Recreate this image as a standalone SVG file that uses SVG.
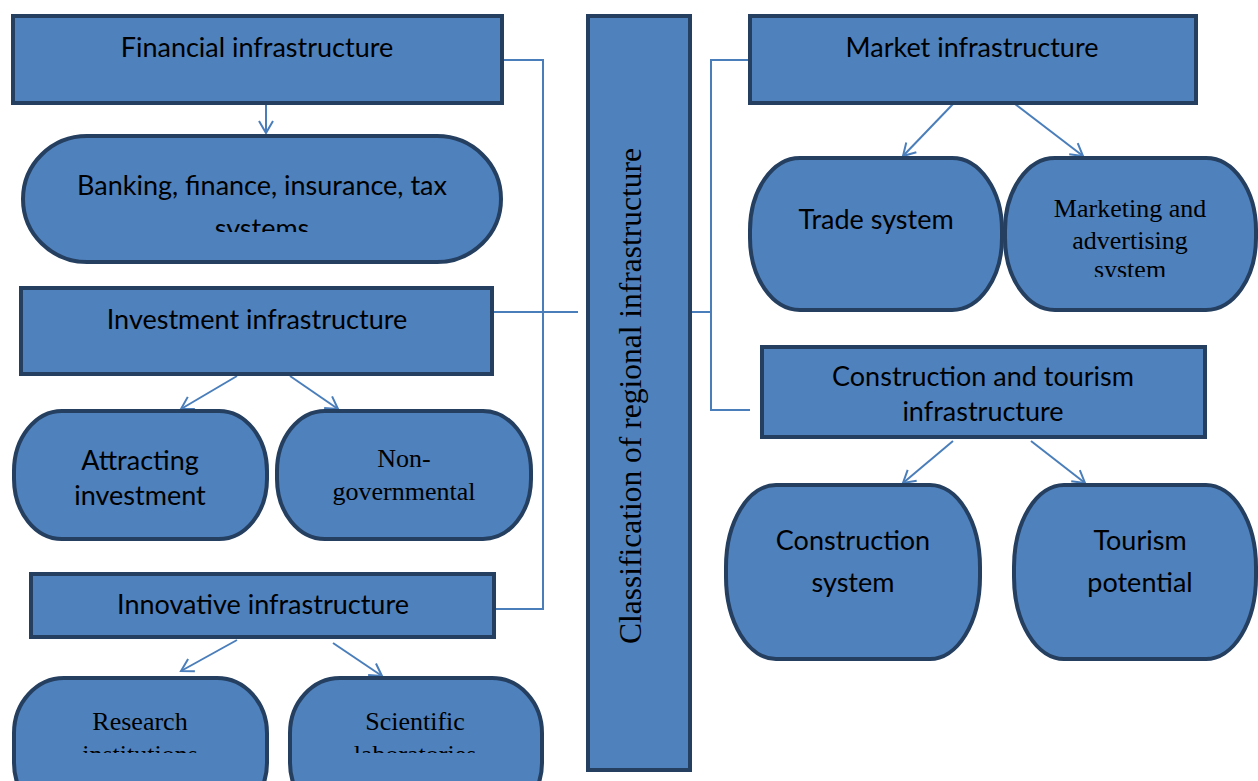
<svg xmlns="http://www.w3.org/2000/svg" width="1258" height="781" viewBox="0 0 1258 781">
<style>
.box{fill:#4F81BD;stroke:#243F60;stroke-width:4}
.t{font-family:Lato,"Liberation Sans",sans-serif;font-size:27px;fill:#000;text-anchor:middle}
.s{font-family:"Liberation Serif","Times New Roman",serif;font-size:26px;fill:#000;text-anchor:middle}
.c{fill:none;stroke:#4A7EBB;stroke-width:2}
</style>
<defs>
<marker id="ar" markerWidth="20" markerHeight="20" refX="15" refY="10" orient="auto" markerUnits="userSpaceOnUse">
<path d="M3,3 L15,10 L3,17" fill="none" stroke="#4A7EBB" stroke-width="2"/>
</marker>
<clipPath id="cb"><rect x="0" y="0" width="1258" height="232"/></clipPath>
<clipPath id="cr"><rect x="0" y="0" width="1258" height="753"/></clipPath>
<clipPath id="cm"><rect x="0" y="0" width="1258" height="277"/></clipPath>
</defs>

<g id="connectors">
<polyline class="c" points="503,60 543,60 543,609 495,609"/>
<line class="c" x1="493" y1="312" x2="578" y2="312"/>
<polyline class="c" points="750,60 711,60 711,410 750,410"/>
<line class="c" x1="691" y1="312" x2="711" y2="312"/>
<line class="c" x1="266" y1="104" x2="266" y2="133" marker-end="url(#ar)"/>
<line class="c" x1="237" y1="376" x2="181" y2="409" marker-end="url(#ar)"/>
<line class="c" x1="290" y1="376" x2="338" y2="409" marker-end="url(#ar)"/>
<line class="c" x1="237" y1="640" x2="181" y2="671" marker-end="url(#ar)"/>
<line class="c" x1="333" y1="643" x2="382" y2="676" marker-end="url(#ar)"/>
<line class="c" x1="953" y1="104" x2="903" y2="156" marker-end="url(#ar)"/>
<line class="c" x1="1015" y1="104" x2="1083" y2="156" marker-end="url(#ar)"/>
<line class="c" x1="953" y1="441" x2="903" y2="483" marker-end="url(#ar)"/>
<line class="c" x1="1031" y1="441" x2="1085" y2="483" marker-end="url(#ar)"/>
</g>

<g id="center">
<rect class="box" x="588" y="16" width="102" height="754"/>
<text class="s" transform="translate(641,396) rotate(-90)" style="font-size:31.5px">Classification of regional infrastructure</text>
</g>

<g id="financial">
<rect class="box" x="13" y="16" width="489" height="87"/>
<text class="t" x="257" y="57">Financial infrastructure</text>
</g>
<g id="banking">
<rect class="box" x="23" y="136" width="478" height="126" rx="64" ry="63"/>
<g clip-path="url(#cb)">
<text class="t" x="262" y="195">Banking, finance, insurance, tax</text>
<text class="t" x="262" y="238">systems</text>
</g>
</g>

<g id="investment">
<rect class="box" x="21" y="288" width="471" height="86"/>
<text class="t" x="257" y="329">Investment infrastructure</text>
</g>
<g id="attracting">
<rect class="box" x="14" y="411" width="253" height="128" rx="48" ry="60"/>
<text class="t" x="140" y="470">Attracting</text>
<text class="t" x="140" y="505">investment</text>
</g>
<g id="nongov">
<rect class="box" x="277" y="411" width="254" height="128" rx="48" ry="60"/>
<text class="s" x="404" y="467">Non-</text>
<text class="s" x="404" y="500">governmental</text>
</g>

<g id="innovative">
<rect class="box" x="31" y="574" width="463" height="63"/>
<text class="t" x="263" y="614">Innovative infrastructure</text>
</g>
<g id="research">
<rect class="box" x="14" y="678" width="253" height="140" rx="50" ry="55"/>
<g clip-path="url(#cr)">
<text class="s" x="140" y="730">Research</text>
<text class="s" x="140" y="763">institutions</text>
</g>
</g>
<g id="scientific">
<rect class="box" x="290" y="678" width="252" height="140" rx="50" ry="55"/>
<g clip-path="url(#cr)">
<text class="s" x="415" y="730">Scientific</text>
<text class="s" x="415" y="763">laboratories</text>
</g>
</g>

<g id="market">
<rect class="box" x="750" y="16" width="446" height="87"/>
<text class="t" x="972" y="57">Market infrastructure</text>
</g>
<g id="trade">
<rect class="box" x="750" y="158" width="252" height="152" rx="50" ry="72"/>
<text class="t" x="876" y="229">Trade system</text>
</g>
<g id="marketing">
<rect class="box" x="1005" y="158" width="251" height="152" rx="50" ry="72"/>
<g clip-path="url(#cm)">
<text class="s" x="1130" y="217">Marketing and</text>
<text class="s" x="1130" y="249">advertising</text>
<text class="s" x="1130" y="278">system</text>
</g>
</g>

<g id="construction-tourism">
<rect class="box" x="762" y="347" width="443" height="90"/>
<text class="t" x="983" y="386">Construction and tourism</text>
<text class="t" x="983" y="421">infrastructure</text>
</g>
<g id="construction">
<rect class="box" x="726" y="485" width="254" height="174" rx="50" ry="82"/>
<text class="t" x="853" y="550">Construction</text>
<text class="t" x="853" y="592">system</text>
</g>
<g id="tourism">
<rect class="box" x="1014" y="485" width="242" height="174" rx="50" ry="82"/>
<text class="t" x="1140" y="550">Tourism</text>
<text class="t" x="1140" y="592">potential</text>
</g>
</svg>
